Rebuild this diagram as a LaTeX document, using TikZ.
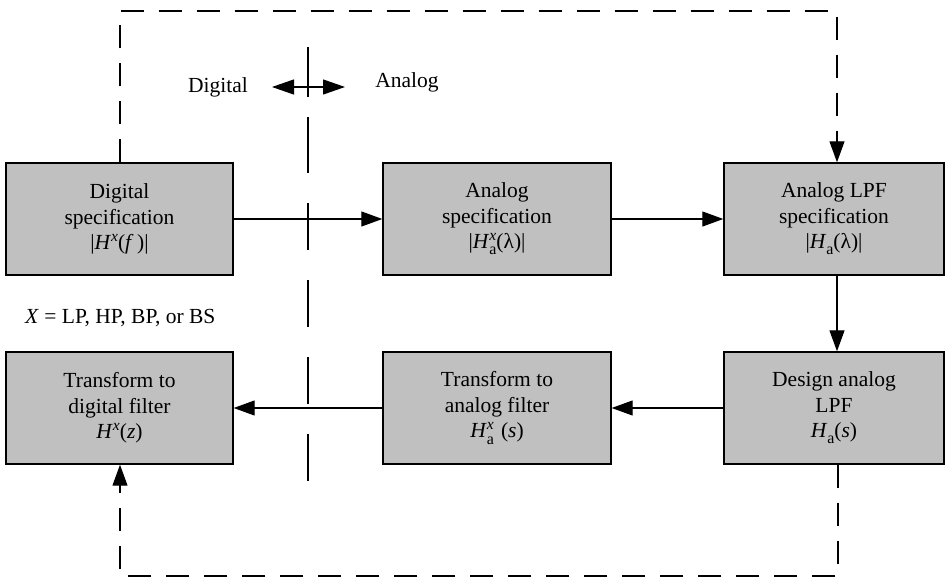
\documentclass[tikz,border=0pt]{standalone}
\usepackage{fontspec}
\setmainfont{Liberation Serif}
\usetikzlibrary{arrows.meta,calc}
\definecolor{boxgray}{RGB}{192,192,192}
\newcommand{\mysupx}{\raisebox{0.40em}{\fontsize{15.5}{15.5}\selectfont\textit{x}}}
\newcommand{\mysuba}{\raisebox{-0.28em}{\fontsize{16}{16}\selectfont a}}
\newcommand{\mysubsup}{\makebox[0pt][l]{\mysupx}\mysuba}
\begin{document}
\begin{tikzpicture}[x=1pt,y=-1pt,
  font=\fontsize{21.5}{25.5}\selectfont,
  blk/.style={draw=black, line width=1.4pt, fill=boxgray, align=center, inner sep=0pt},
  conn/.style={line width=1.2pt, -{Triangle[length=21pt,width=15pt]}},
  dconn/.style={line width=1.2pt, dash pattern=on 23pt off 15pt},
  divline/.style={line width=1.2pt, dash pattern=on 50pt off 20pt on 56pt off 30pt on 47pt off 30pt on 47pt off 30pt on 47pt off 30pt on 47pt off 30pt}]
\useasboundingbox (0,0) rectangle (946,578);
% boxes
\node[blk, minimum width=227pt, minimum height=112pt] (b1) at (119.5,219) {Digital\\specification\\|\textit{H}\mysupx(\textit{f}\,)|};
\node[blk, minimum width=228pt, minimum height=112pt] (b2) at (497,219) {Analog\\specification\\|\textit{H}\mysubsup(λ)|};
\node[blk, minimum width=220pt, minimum height=112pt] (b3) at (834,219) {Analog LPF\\specification\\|\textit{H}\mysuba(λ)|};
\node[blk, minimum width=227pt, minimum height=112pt] (b4) at (119.5,408) {Transform to\\digital filter\\\textit{H}\mysupx(\textit{z})};
\node[blk, minimum width=228pt, minimum height=112pt] (b5) at (497,408) {Transform to\\analog filter\\\textit{H}\mysubsup\,\,(\textit{s})};
\node[blk, minimum width=220pt, minimum height=112pt] (b6) at (834,408) {Design analog\\LPF\\\textit{H}\mysuba(\textit{s})};
% solid connectors
\draw[conn] (b1.east) -- (b2.west);
\draw[conn] (b2.east) -- (b3.west);
\draw[conn] (b3.south -| 837,0) -- (b6.north -| 837,0);
\draw[conn] (b6.west) -- (b5.east);
\draw[conn] (b5.west) -- (b4.east);
% dashed feedback loop
\coordinate (tl) at (120,11);
\coordinate (tr) at (837,11);
\coordinate (bl) at (120,576);
\coordinate (br) at (838,576);
\draw[dconn] (b1.north -| tl) -- (tl) -- (tr) -- (tr |- b3.north);
\draw[line width=1.2pt, -{Triangle[length=21pt,width=15pt]}] ($(tr |- b3.north)+(0,-21)$) -- (tr |- b3.north);
\draw[dconn] (b6.south -| br) -- (br) -- (bl) -- ($(bl |- b4.south)+(0,21)$);
\draw[line width=1.2pt, -{Triangle[length=21pt,width=15pt]}] ($(bl |- b4.south)+(0,21)$) -- (bl |- b4.south);
% digital / analog divider
\coordinate (dvt) at (308,47);
\coordinate (dvb) at (308,481);
\draw[divline] (dvt) -- (dvb);
\coordinate (dal) at (272,87);
\coordinate (dar) at (345,87);
\draw[line width=1.2pt, {Triangle[length=22pt,width=15pt]}-{Triangle[length=22pt,width=15pt]}] (dal) -- (dar);
\node (dig) at (218,87) {Digital};
\node (ana) at (407,82) {Analog};
\node[anchor=west, inner sep=0pt] (note) at (25,318) {\textit{X} = LP, HP, BP, or BS};
\end{tikzpicture}
\end{document}
